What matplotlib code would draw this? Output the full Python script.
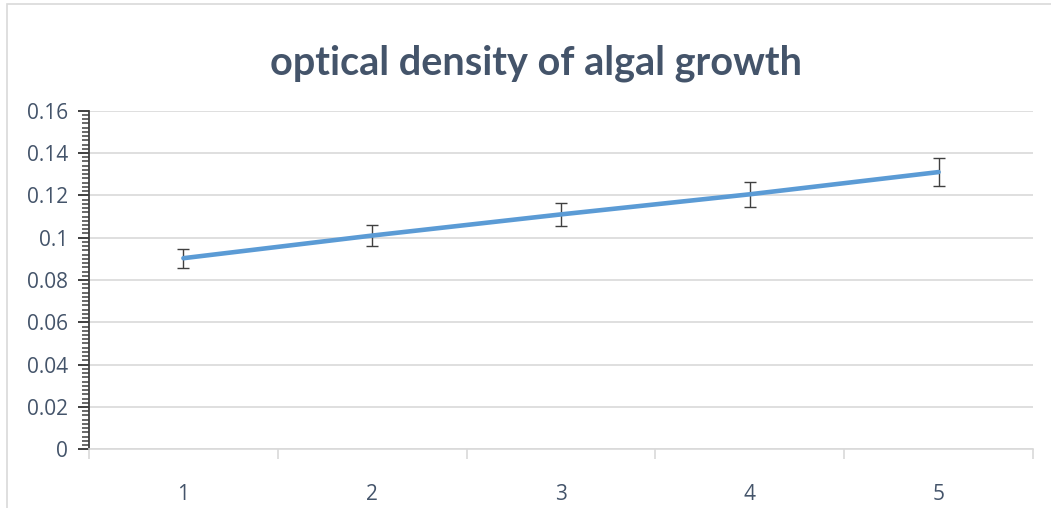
import matplotlib
matplotlib.use("Agg")
import matplotlib.pyplot as plt
from matplotlib.ticker import MultipleLocator
from matplotlib.patches import Rectangle

categories = [1, 2, 3, 4, 5]
values = [0.0903, 0.101, 0.111, 0.1205, 0.131]
errors = [0.0045, 0.005, 0.0054, 0.006, 0.0065]
yticks = [0, 0.02, 0.04, 0.06, 0.08, 0.1, 0.12, 0.14, 0.16]
ytick_labels = ["0", "0.02", "0.04", "0.06", "0.08", "0.1", "0.12", "0.14", "0.16"]

W, H = 1051, 508
fig = plt.figure(figsize=(W / 100, H / 100), dpi=100)
fig.patches.append(Rectangle((7 / W, -0.1), 1.2, 1 - 4 / H + 0.1, transform=fig.transFigure,
                             fill=False, edgecolor="#d9d9d9", linewidth=1.2))

left, right, top, bottom = 89, 1033, 110.7, 449.3
ax = fig.add_axes([left / W, 1 - bottom / H, (right - left) / W, (bottom - top) / H])

text_color = "#44546a"
x = list(range(len(categories)))
ax.errorbar(x, values, yerr=errors, color="#5b9bd5", linewidth=3.3,
            ecolor="#404040", elinewidth=1.0, capsize=4.3, capthick=1.0,
            solid_capstyle="round", zorder=3)
ax.set_xlim(-0.5, len(categories) - 0.5)
ax.set_ylim(0, 0.16)

ax.set_yticks(yticks)
ax.set_yticklabels(ytick_labels)
ax.yaxis.set_minor_locator(MultipleLocator(0.002))
ax.set_xticks(x)
ax.set_xticklabels([str(c) for c in categories])
ax.set_xticks([i - 0.5 for i in range(len(categories) + 1)], minor=True)

ax.grid(axis="y", which="major", color="#d9d9d9", linewidth=1.2, zorder=0)
for s in ["top", "right"]:
    ax.spines[s].set_visible(False)
ax.spines["left"].set_color("#404040")
ax.spines["left"].set_linewidth(1.3)
ax.spines["bottom"].set_color("#d9d9d9")
ax.spines["bottom"].set_linewidth(1.2)

ax.tick_params(axis="y", which="major", length=8, width=1.4, color="#404040",
               labelsize=15, labelcolor=text_color, pad=7)
ax.tick_params(axis="y", which="minor", length=5, width=1.1, color="#404040")
ax.tick_params(axis="x", which="major", length=0, labelsize=15, labelcolor=text_color, pad=25)
ax.tick_params(axis="x", which="minor", length=7, width=1.2, color="#d9d9d9")
for lab in ax.get_xticklabels() + ax.get_yticklabels():
    lab.set_fontfamily("Open Sans")

fig.text(536 / W, 1 - 63 / H, "optical density of algal growth", ha="center", va="center",
         fontsize=28.5, fontweight="bold", color=text_color, family="Lato")

fig.savefig("out.png", dpi=100)
